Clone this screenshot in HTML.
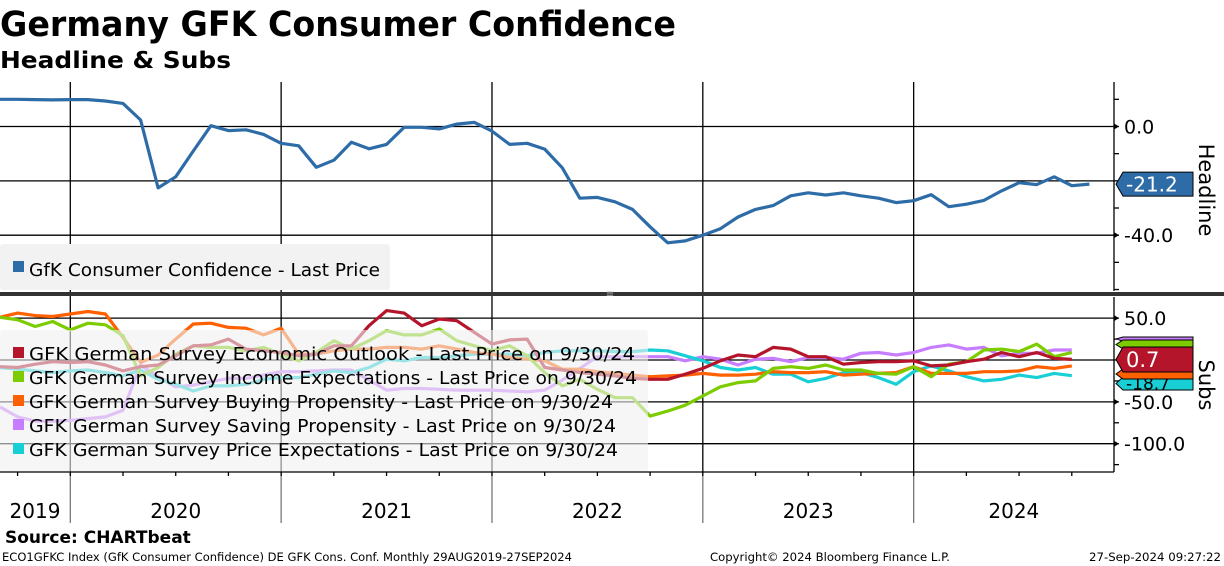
<!DOCTYPE html>
<html><head><meta charset="utf-8">
<style>
html,body{margin:0;padding:0;background:#fff;}
svg{display:block;font-family:"DejaVu Sans","Liberation Sans",sans-serif;}
</style></head>
<body>
<svg id="chart" width="1224" height="566" viewBox="0 0 1224 566" xmlns="http://www.w3.org/2000/svg">
  <rect x="0" y="0" width="1224" height="566" fill="#fff"/>
  <text x="0" y="36" font-size="35" font-weight="bold" textLength="676" lengthAdjust="spacingAndGlyphs">Germany GFK Consumer Confidence</text>
  <text x="0" y="68" font-size="23" font-weight="bold" textLength="231" lengthAdjust="spacingAndGlyphs">Headline &amp; Subs</text>
  <g id="grid"></g>
  <g id="top-lines"></g>
  <rect x="0" y="244" width="390" height="46" rx="3" fill="#f2f2f2"/>
  <rect x="13" y="261" width="11" height="11" fill="#2e6ca8"/>
  <text x="29" y="276" font-size="18" textLength="351" lengthAdjust="spacingAndGlyphs">GfK Consumer Confidence - Last Price</text>
  <g id="sub-lines"></g>
  <rect x="0" y="330" width="648" height="142" rx="3" fill="#f0f0f0" fill-opacity="0.6"/>
  <g id="sub-legend"></g>
  <rect x="0" y="292" width="1224" height="4" fill="#333"/>
  <text x="610" y="297" font-size="10" fill="#aaa" text-anchor="middle">≡</text>
  <g id="axes"></g>
  <g id="labels"></g>
  <text transform="translate(1199,190) rotate(90)" font-size="21" text-anchor="middle">Headline</text>
  <text transform="translate(1199,385) rotate(90)" font-size="21" text-anchor="middle">Subs</text>
  <text x="5" y="543" font-size="17" font-weight="bold">Source: CHARTbeat</text>
  <text x="2" y="561" font-size="11.5" textLength="570" lengthAdjust="spacingAndGlyphs">ECO1GFKC Index (GfK Consumer Confidence) DE GFK Cons. Conf.  Monthly 29AUG2019-27SEP2024</text>
  <text x="710" y="561" font-size="11.5" textLength="240" lengthAdjust="spacingAndGlyphs">Copyright© 2024 Bloomberg Finance L.P.</text>
  <text x="1221" y="561" font-size="11.5" text-anchor="end" textLength="132" lengthAdjust="spacingAndGlyphs">27-Sep-2024 09:27:22</text>
</svg>
<script>
const years = ["2019","2020","2021","2022","2023","2024"];
const headline = [10,10,9.9,9.8,9.9,9.9,9.4,8.5,2.4,-22.6,-18.5,-9,0.3,-1.5,-1.2,-2.9,-6.2,-7.1,-15,-12.4,-5.8,-8.2,-6.6,-0.3,-0.3,-0.9,0.9,1.5,-1.7,-6.6,-6.2,-8.3,-15.2,-26.4,-26.1,-27.7,-30.5,-36.9,-42.8,-42.1,-40,-37.6,-33.3,-30.5,-29.1,-25.5,-24.4,-25.2,-24.4,-25.5,-26.4,-28,-27.3,-25.1,-29.5,-28.6,-27.2,-23.7,-20.7,-21.4,-18.5,-21.8,-21.2];
const econOutlook = [-8,-9,-5,-2,-3,-2,-6,-13,-8,-6,5,17,18,25,13,11,9,5,7,17,17,41,59,56,41,49,47,33,19,24,25,-9,-12,-15,-17,-19,-22,-23,-23,-17,-10,-1,6,4,15,13,4,4,-5,-3,-2,-2,-1,-7,-6,-2,1,9,4,9,2,0.7];
const incomeExp = [51,48,40,46,36,44,42,29,-19,-9,7,17,15,15,11,15,7,-1,9,23,13,23,35,30,30,37,23,17,11,17,5,-15,-31,-23,-35,-45,-45,-67,-61,-54,-43,-32,-27,-25,-10,-8,-10,-6,-12,-12,-16,-17,-8,-20,-5,-2,12,13,10,19,4,9];
const buyingProp = [51,56,53,52,55,58,55,27,-3,6,25,43,44,39,38,30,38,7,7,11,13,13,15,15,13,17,13,9,7,3,1,-1,-11,-11,-14,-16,-18,-20,-19,-18,-16,-18,-18,-17,-14,-15,-15,-14,-18,-17,-16,-15,-8,-16,-16,-16,-14,-14,-13,-8,-10,-7];
const savingProp = [-56,-68,-73,-73,-72,-70,-68,-60,-6,-20,-32,-30,-26,-22,-22,-18,-14,-14,-13,-12,-12,-24,-36,-34,-34,-35,-36,-36,-36,-37,-38,-36,-24,-10,4,4,4,4,4,-1,4,1,-6,1,2,-2,3,3,1,8,9,6,9,15,18,13,15,5,8,8,12,12];
const priceExp = [-9,-11,-13,-15,-13,-12,-15,-19,-12,-23,-29,-37,-31,-31,-29,-23,-21,-21,-17,-13,-15,-9,1,-1,3,3,5,7,7,7,5,9,11,11,11,10,10,12,11,5,-1,-9,-12,-9,-17,-17,-26,-22,-15,-15,-21,-29,-14,-7,-13,-20,-25,-23,-18,-21,-16,-18.7];
const subNames = ["GFK German Survey Economic Outlook - Last Price on 9/30/24","GFK German Survey Income Expectations - Last Price on 9/30/24","GFK German Survey Buying Propensity - Last Price on 9/30/24","GFK German Survey Saving Propensity - Last Price on 9/30/24","GFK German Survey Price Expectations - Last Price on 9/30/24"];
const topTicks = [0,-20,-40];
const topTickLabels = ["0.0","-40.0"];
const topTickLabelVals = [0,-40];
const subTicks = [50,0,-50,-100];
const subTickLabels = ["50.0","-50.0","-100.0"];
const subTickLabelVals = [50,-50,-100];

const NS="http://www.w3.org/2000/svg";
function mk(tag,attrs,parent){const e=document.createElementNS(NS,tag);for(const k in attrs)e.setAttribute(k,attrs[k]);parent.appendChild(e);return e;}
const xOf = n => 70.3 + (n-4)*17.57;
const yTop = v => 126.5 - v*2.717;
const ySub = v => 360 - v*0.837;
const AX = 1114;

const grid=document.getElementById('grid');
topTicks.forEach(v=>{const l=mk('line',{x1:0,x2:AX,y1:yTop(v),y2:yTop(v),stroke:'#000','stroke-width':1.3},grid);

});
subTicks.forEach(v=>{const l=mk('line',{x1:0,x2:AX,y1:ySub(v),y2:ySub(v),stroke:'#000','stroke-width':1.3},grid);

});
for(let yr=1;yr<years.length;yr++){const x=xOf(4+(yr-1)*12);
 const l=mk('line',{x1:x,x2:x,y1:82,y2:472,stroke:'#000','stroke-width':1.3},grid);
 
 
 const s=mk('line',{x1:x,x2:x,y1:472,y2:523,stroke:'#777','stroke-width':1.3},grid);
 
 }

function path(arr,yf,color,parent,name){
 const d=arr.map((v,i)=>(i?'L':'M')+xOf(i).toFixed(1)+','+yf(v).toFixed(1)).join(' ');
 const p=mk('path',{d:d,fill:'none',stroke:color,'stroke-width':3.2,'stroke-linejoin':'round'},parent);
 
 
}
path(headline,yTop,'#2e6ca8',document.getElementById('top-lines'),'headline-line');
const sl=document.getElementById('sub-lines');
const subColors=['#b5152b','#7ccc00','#ff6000','#c77dff','#19cfd6'];
const subSeries=[econOutlook,incomeExp,buyingProp,savingProp,priceExp];
[3,4,2,1,0].forEach(i=>path(subSeries[i],ySub,subColors[i],sl,'sub-line-'+i));

const lg=document.getElementById('sub-legend');
subNames.forEach((n,i)=>{const y=360+i*24;
 const r=mk('rect',{x:13,y:y-13,width:11,height:11,fill:subColors[i]},lg);
 
 
 const t=mk('text',{x:29,y:y,'font-size':18,textLength:[606,608,584,587,589][i],lengthAdjust:'spacingAndGlyphs'},lg);
 t.textContent=n;
 
 });

const ax=document.getElementById('axes');
function line(a,name){const l=mk('line',a,ax);l.setAttribute('stroke','#000');l.setAttribute('stroke-width','1.3');
 
 }
line({x1:AX,x2:AX,y1:82,y2:291},'top-y-axis');
line({x1:AX,x2:AX,y1:297,y2:472},'sub-y-axis');
line({x1:0,x2:AX,y1:472,y2:472},'x-axis');
for(let v=20;v>=-60;v-=10){const y=yTop(v);if(y<84||y>290)continue;line({x1:AX,x2:AX+5,y1:y,y2:y},'top-tick');}
for(let v=75;v>=-125;v-=25){const y=ySub(v);if(y<298||y>470)continue;line({x1:AX,x2:AX+5,y1:y,y2:y},'sub-tick');}
for(let n=1;n<62;n+=3){line({x1:xOf(n),x2:xOf(n),y1:472,y2:476},'x-minor-tick');}
function tlab(txt,y,name){
 const p=mk('path',{d:`M${AX} ${y-3}L${AX+5} ${y}L${AX} ${y+3}Z`,fill:'#000'},ax);
 
 
 const t=mk('text',{x:AX+10,y:y+7,'font-size':19},ax);t.textContent=txt;
 
 }
topTickLabels.forEach((s,i)=>tlab(s,yTop(topTickLabelVals[i]),'top-tick-label'));
subTickLabels.forEach((s,i)=>tlab(s,ySub(subTickLabelVals[i]),'sub-tick-label'));
const yearCenters=[35];
for(let yr=1;yr<years.length;yr++){const a=xOf(4+(yr-1)*12);const b=Math.min(xOf(4+yr*12),AX);yearCenters.push((a+b)/2);}
years.forEach((s,i)=>{const t=mk('text',{x:yearCenters[i],y:518,'font-size':20,'text-anchor':'middle'},ax);t.textContent=s;
 
 });

const lb=document.getElementById('labels');
function tag(y0,y1,color,txt,tcolor,fs,name){
 const m=(y0+y1)/2;
 const p=mk('path',{d:`M1116 ${m}L1123 ${y0}L1193 ${y0}L1193 ${y1}L1123 ${y1}Z`,fill:color,stroke:'#000','stroke-width':1},lb);
 
 
 if(txt){const t=mk('text',{x:1126,y:m+fs*0.36,'font-size':fs,fill:tcolor},lb);t.textContent=txt;
  
  }
}
tag(yTop(headline[62])-12,yTop(headline[62])+12,'#2e6ca8','-21.2','#fff',20,'headline-last-label');
tag(337,341,'#c77dff','', '#000',10,'saving-last-label');
tag(340,349,'#7ccc00','', '#000',10,'income-last-label');
tag(377,390,'#19cfd6','-18.7','#000',17,'price-last-label');
tag(369,379,'#ff6000','', '#000',10,'buying-last-label');
tag(347,372,'#b5152b','0.7','#fff',21,'econ-last-label');
</script>
</body></html>
